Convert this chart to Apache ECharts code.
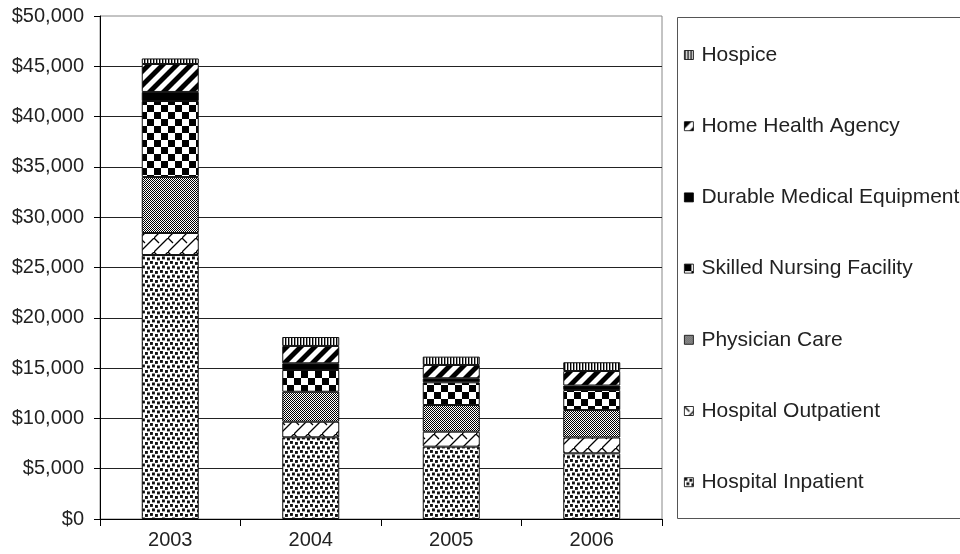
<!DOCTYPE html>
<html>
<head>
<meta charset="utf-8">
<script src="https://cdn.jsdelivr.net/npm/echarts@6/dist/echarts.min.js"></script>
<style>
  html, body { margin: 0; padding: 0; background: #fff; }
  #chart { width: 960px; height: 554px; }
</style>
</head>
<body>
<div id="chart"></div>
<script>
// Medicare spending by service type, stacked per year
const years = ['2003', '2004', '2005', '2006'];
const hospitalInpatient = [26240, 8120, 7190, 6530];
const hospitalOutpatient = [2190, 1550, 1490, 1570];
const physicianCare = [5560, 2980, 2650, 2730];
const skilledNursing = [7560, 2160, 2260, 1990];
const durableEquipment = [900, 670, 400, 450];
const homeHealth = [2780, 1720, 1320, 1440];
const hospice = [550, 890, 830, 870];

const yTicks = { min: 0, max: 50000, interval: 5000 };

// Monochrome fill patterns, one per service type
function makePattern(w, h, draw) {
  const c = document.createElement('canvas');
  c.width = w; c.height = h;
  const ctx = c.getContext('2d');
  ctx.fillStyle = '#fff';
  ctx.fillRect(0, 0, w, h);
  ctx.fillStyle = '#000';
  ctx.strokeStyle = '#000';
  draw(ctx, w, h);
  return { image: c, repeat: 'repeat' };
}

const patInpatient = makePattern(10, 9, (ctx) => {
  ctx.fillStyle = '#111';
  [[0, 0], [5, 1], [2, 4.5], [7, 5.5]].forEach(([x, y]) => ctx.fillRect(x, y, 2.9, 2.9));
});
const patOutpatient = makePattern(14, 14, (ctx) => {
  ctx.lineWidth = 1.3;
  ctx.beginPath();
  ctx.moveTo(-1, 15); ctx.lineTo(15, -1);
  ctx.moveTo(0, 0); ctx.lineTo(5, 5);
  ctx.moveTo(14, 0); ctx.lineTo(19, 5);
  ctx.moveTo(0, 14); ctx.lineTo(5, 19);
  ctx.stroke();
});
const patPhysician = makePattern(2, 2, (ctx) => {
  ctx.fillRect(0, 0, 1, 1);
  ctx.fillRect(1, 1, 1, 1);
});
const patNursing = makePattern(14, 14, (ctx) => {
  ctx.fillRect(0, 0, 7, 7);
  ctx.fillRect(7, 7, 7, 7);
});
const patHomeHealth = makePattern(14, 14, (ctx) => {
  ctx.beginPath();
  ctx.moveTo(0, 14); ctx.lineTo(7, 14); ctx.lineTo(14, 7); ctx.lineTo(14, 0); ctx.closePath();
  ctx.moveTo(0, 0); ctx.lineTo(0, 7); ctx.lineTo(7, 0); ctx.closePath();
  ctx.fill();
});
const patHospice = makePattern(3, 4, (ctx) => {
  ctx.fillRect(0, 0, 1.4, 4);
});

const seriesDefs = [
  { name: 'Hospital Inpatient', data: hospitalInpatient, color: patInpatient },
  { name: 'Hospital Outpatient', data: hospitalOutpatient, color: patOutpatient },
  { name: 'Physician Care', data: physicianCare, color: patPhysician },
  { name: 'Skilled Nursing Facility', data: skilledNursing, color: patNursing },
  { name: 'Durable Medical Equipment', data: durableEquipment, color: '#000' },
  { name: 'Home Health Agency', data: homeHealth, color: patHomeHealth },
  { name: 'Hospice', data: hospice, color: patHospice }
];

const chart = echarts.init(document.getElementById('chart'), null, { renderer: 'canvas' });
const font = '"Liberation Sans", Arial, Helvetica, sans-serif';

chart.setOption({
  animation: false,
  backgroundColor: '#fff',
  textStyle: { fontFamily: font },
  grid: {
    left: 100, right: 298, top: 16, bottom: 35,
    show: true, borderColor: '#888', borderWidth: 1
  },
  legend: {
    orient: 'vertical',
    left: 684,
    top: 43,
    padding: 0,
    itemWidth: 9,
    itemHeight: 9,
    itemGap: 47.2,
    icon: 'rect',
    itemStyle: { borderColor: '#000', borderWidth: 0.8 },
    textStyle: { fontFamily: font, fontSize: 21, color: '#222', lineHeight: 24, padding: [0, 0, 0, 3] },
    data: seriesDefs.map(s => s.name).reverse()
  },
  graphic: [{
    type: 'rect',
    shape: { x: 677.5, y: 17.5, width: 320, height: 501 },
    style: { fill: 'none', stroke: '#555', lineWidth: 1 },
    silent: true,
    z: 0
  }],
  xAxis: {
    type: 'category',
    data: years,
    axisLine: { lineStyle: { color: '#000', width: 1 } },
    axisTick: { show: true, length: 7, lineStyle: { color: '#000' } },
    axisLabel: { fontSize: 20, color: '#222', margin: 11, fontFamily: font },
    splitLine: { show: false }
  },
  yAxis: {
    type: 'value',
    min: yTicks.min,
    max: yTicks.max,
    interval: yTicks.interval,
    axisLine: { show: true, lineStyle: { color: '#000', width: 1 } },
    axisTick: { show: true, length: 6, lineStyle: { color: '#000' } },
    axisLabel: {
      fontSize: 20, color: '#222', margin: 16, fontFamily: font,
      formatter: v => '$' + v.toLocaleString('en-US')
    },
    splitLine: { show: true, showMaxLine: false, lineStyle: { color: '#222', width: 1 } }
  },
  series: seriesDefs.map(s => ({
    name: s.name,
    type: 'bar',
    stack: 'total',
    barWidth: 57,
    data: s.data,
    itemStyle: { color: s.color, borderColor: '#111', borderWidth: 1 },
    emphasis: { disabled: true }
  }))
});
</script>
</body>
</html>
